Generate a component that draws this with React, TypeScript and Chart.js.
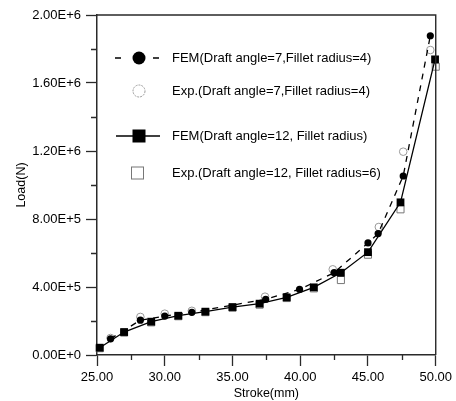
import React, { useEffect, useRef } from 'react';
import { Chart, registerables } from 'chart.js';

Chart.register(...registerables);

// FEM (Draft angle=7, Fillet radius=4) - filled circles, dashed line
const femA_x = [26.0, 28.2, 30.0, 32.0, 37.45, 39.95, 42.5, 45.0, 45.75, 47.6, 49.6];
const femA_y = [95000, 205000, 229000, 251000, 328000, 386000, 484000, 659000, 714000, 1053000, 1878000];

// Exp. (Draft angle=7, Fillet radius=4) - open circles
const expA_x = [26.0, 28.2, 30.0, 32.0, 37.4, 42.4, 45.8, 47.6, 49.6];
const expA_y = [100000, 224000, 243000, 260000, 343000, 504000, 753000, 1196000, 1794000];

// FEM (Draft angle=12, Fillet radius) - filled squares, solid line
const femB_x = [25.2, 27.0, 29.0, 31.0, 33.0, 35.0, 37.0, 39.0, 41.0, 43.0, 45.0, 47.4, 49.95];
const femB_y = [43000, 135000, 196000, 231000, 255000, 282000, 302000, 339000, 398000, 484000, 605000, 898000, 1739000];

// Exp. (Draft angle=12, Fillet radius=6) - open squares
const expB_x = [25.2, 27.0, 29.0, 31.0, 33.0, 35.0, 37.0, 39.0, 41.0, 43.0, 45.0, 47.4, 50.0];
const expB_y = [40000, 132000, 192000, 228000, 252000, 278000, 296000, 335000, 392000, 441000, 590000, 857000, 1696000];

const seriesLabels = [
  'FEM(Draft angle=7,Fillet radius=4)',
  'Exp.(Draft angle=7,Fillet radius=4)',
  'FEM(Draft angle=12, Fillet radius)',
  'Exp.(Draft angle=12, Fillet radius=6)',
];

const xTickValues = [25, 30, 35, 40, 45, 50];
const xTickLabels = ['25.00', '30.00', '35.00', '40.00', '45.00', '50.00'];
const xMinorValues = [27.5, 32.5, 37.5, 42.5, 47.5];

const yTickValues = [0, 400000, 800000, 1200000, 1600000, 2000000];
const yTickLabels = ['0.00E+0', '4.00E+5', '8.00E+5', '1.20E+6', '1.60E+6', '2.00E+6'];
const yMinorValues = [200000, 600000, 1000000, 1400000, 1800000];

const xTitle = 'Stroke(mm)';
const yTitle = 'Load(N)';

const FONT = "'Liberation Sans', Arial, sans-serif";
const AXIS = '#2a2a2a';

const toPoints = (xs: number[], ys: number[]) => xs.map((x, i) => ({ x, y: ys[i] }));

const framePlugin = {
  id: 'frameAndMinor',
  afterDraw(chart: any) {
    const { ctx, chartArea } = chart;
    const xs = chart.scales.x;
    const ys = chart.scales.y;
    ctx.save();
    ctx.strokeStyle = AXIS;
    ctx.lineWidth = 1.4;
    ctx.beginPath();
    ctx.moveTo(chartArea.left, chartArea.top);
    ctx.lineTo(chartArea.right, chartArea.top);
    ctx.lineTo(chartArea.right, chartArea.bottom);
    ctx.stroke();
    ctx.lineWidth = 1.3;
    ctx.beginPath();
    xMinorValues.forEach((v) => {
      const px = Math.round(xs.getPixelForValue(v)) + 0.5;
      ctx.moveTo(px, chartArea.bottom);
      ctx.lineTo(px, chartArea.bottom + 5);
    });
    yMinorValues.forEach((v) => {
      const py = Math.round(ys.getPixelForValue(v)) + 0.5;
      ctx.moveTo(chartArea.left - 6, py);
      ctx.lineTo(chartArea.left, py);
    });
    ctx.stroke();
    ctx.restore();
  },
};

const legendRows = [
  { y: 58, kind: 'dashCircle' },
  { y: 91, kind: 'openCircle' },
  { y: 136, kind: 'lineSquare' },
  { y: 173, kind: 'openSquare' },
];

const legendPlugin = {
  id: 'customLegend',
  afterDraw(chart: any) {
    const { ctx } = chart;
    const cx = 139;
    const textX = 172;
    ctx.save();
    legendRows.forEach((row, i) => {
      const y = row.y;
      ctx.setLineDash([]);
      if (row.kind === 'dashCircle') {
        ctx.strokeStyle = '#000';
        ctx.lineWidth = 1.4;
        ctx.beginPath();
        ctx.moveTo(115, y); ctx.lineTo(121, y);
        ctx.moveTo(153, y); ctx.lineTo(159, y);
        ctx.stroke();
        ctx.fillStyle = '#000';
        ctx.beginPath();
        ctx.arc(cx, y, 6.5, 0, Math.PI * 2);
        ctx.fill();
      } else if (row.kind === 'openCircle') {
        ctx.strokeStyle = '#999';
        ctx.lineWidth = 1;
        ctx.setLineDash([2, 1]);
        ctx.beginPath();
        ctx.arc(cx, y, 6, 0, Math.PI * 2);
        ctx.stroke();
        ctx.setLineDash([]);
      } else if (row.kind === 'lineSquare') {
        ctx.strokeStyle = '#000';
        ctx.lineWidth = 1.4;
        ctx.beginPath();
        ctx.moveTo(116, y); ctx.lineTo(160, y);
        ctx.stroke();
        ctx.fillStyle = '#000';
        ctx.fillRect(cx - 6.5, y - 6.5, 13, 13);
      } else {
        ctx.strokeStyle = '#777';
        ctx.lineWidth = 1;
        ctx.strokeRect(cx - 8 + 0.5, y - 6.5 + 0.5, 12, 12);
      }
      ctx.fillStyle = '#000';
      ctx.font = `13px ${FONT}`;
      ctx.textAlign = 'left';
      ctx.textBaseline = 'middle';
      ctx.fillText(seriesLabels[i], textX, y);
    });
    ctx.restore();
  },
};

export default function App() {
  const canvasRef = useRef<HTMLCanvasElement | null>(null);

  useEffect(() => {
    if (!canvasRef.current) return;
    const chart = new Chart(canvasRef.current, {
      type: 'scatter',
      data: {
        datasets: [
          {
            label: seriesLabels[0],
            data: toPoints(femA_x, femA_y),
            showLine: true,
            borderColor: '#000',
            borderWidth: 1.3,
            borderDash: [6, 6],
            pointStyle: 'circle',
            pointRadius: 3.6,
            pointBackgroundColor: '#000',
            pointBorderColor: '#000',
            pointBorderWidth: 0,
            clip: false,
            order: 1,
          },
          {
            label: seriesLabels[1],
            data: toPoints(expA_x, expA_y),
            showLine: false,
            pointStyle: 'circle',
            pointRadius: 3.8,
            pointBackgroundColor: 'rgba(255,255,255,0)',
            pointBorderColor: '#999',
            pointBorderWidth: 1,
            clip: false,
            order: 2,
          },
          {
            label: seriesLabels[2],
            data: toPoints(femB_x, femB_y),
            showLine: true,
            borderColor: '#000',
            borderWidth: 1.3,
            pointStyle: 'rect',
            pointRadius: 5.5,
            pointBackgroundColor: '#000',
            pointBorderColor: '#000',
            pointBorderWidth: 0,
            clip: false,
            order: 0,
          },
          {
            label: seriesLabels[3],
            data: toPoints(expB_x, expB_y),
            showLine: false,
            pointStyle: 'rect',
            pointRadius: 5,
            pointBackgroundColor: 'rgba(255,255,255,0)',
            pointBorderColor: '#777',
            pointBorderWidth: 1,
            clip: false,
            order: 3,
          },
        ],
      },
      options: {
        responsive: false,
        animation: false,
        events: [],
        layout: { padding: { top: 15, right: 20, left: 0, bottom: 0 } },
        plugins: {
          legend: { display: false },
          tooltip: { enabled: false },
        },
        scales: {
          x: {
            type: 'linear',
            min: 25,
            max: 50,
            afterFit: (s: any) => { s.height = 46; },
            afterBuildTicks: (s: any) => { s.ticks = xTickValues.map((v) => ({ value: v })); },
            ticks: {
              color: '#000',
              font: { family: FONT, size: 13 },
              padding: 4,
              maxRotation: 0,
              autoSkip: false,
              callback: (_v: any, i: number) => xTickLabels[i],
            },
            grid: {
              drawOnChartArea: false,
              drawTicks: true,
              tickLength: 11,
              tickWidth: 1.3,
              tickColor: AXIS,
            },
            border: { display: true, color: AXIS, width: 1.5 },
            title: {
              display: true,
              text: xTitle,
              color: '#000',
              font: { family: FONT, size: 12.5 },
              padding: 0,
            },
          },
          y: {
            type: 'linear',
            min: 0,
            max: 2000000,
            afterFit: (s: any) => { s.width = 97; },
            afterBuildTicks: (s: any) => { s.ticks = yTickValues.map((v) => ({ value: v })); },
            ticks: {
              color: '#000',
              font: { family: FONT, size: 13 },
              padding: 5,
              autoSkip: false,
              callback: (_v: any, i: number) => yTickLabels[i],
            },
            grid: {
              drawOnChartArea: false,
              drawTicks: true,
              tickLength: 11,
              tickWidth: 1.3,
              tickColor: AXIS,
            },
            border: { display: true, color: AXIS, width: 1.5 },
            title: {
              display: true,
              text: yTitle,
              color: '#000',
              font: { family: FONT, size: 12.5 },
              padding: { top: 14, bottom: 0 },
            },
          },
        },
      },
      plugins: [framePlugin, legendPlugin],
    });
    return () => chart.destroy();
  }, []);

  return (
    <div style={{ position: 'absolute', left: 0, top: 0, width: 456, height: 401, background: '#fff' }}>
      <canvas ref={canvasRef} width={456} height={401} style={{ display: 'block' }} />
    </div>
  );
}
